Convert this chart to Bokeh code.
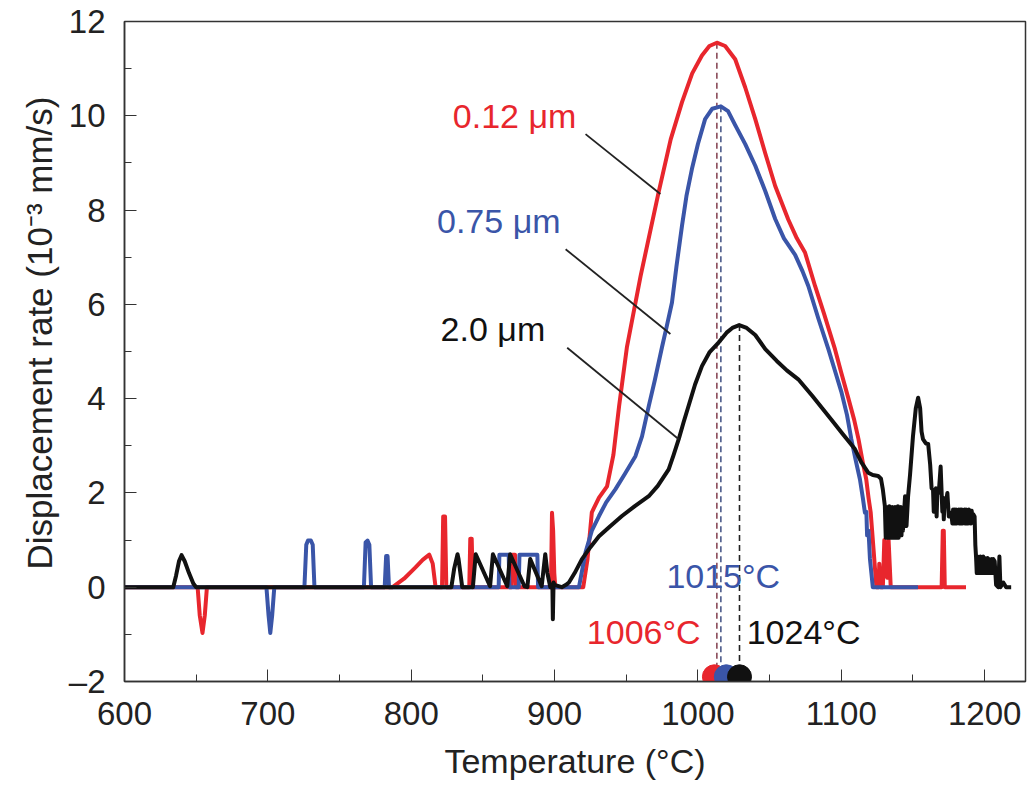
from bokeh.plotting import figure
from bokeh.models import SingleIntervalTicker, ColumnDataSource, Title
from bokeh.core.properties import value
from bokeh.embed import file_html
from bokeh.resources import INLINE

FONT = "Liberation Sans"
RED = "#e8262d"
BLUE = "#3a55a8"
BLACK = "#111111"

# ---- data ----
red_T = [600, 651, 652.5, 654.4, 656, 657.5, 787, 795, 803, 808, 812.6, 815, 817,
         821.5, 822.3, 823.6, 824.5, 840.5, 841.2, 842.2, 843, 870, 870.6, 872.4, 873,
         897.5, 898.2, 899, 899.8, 900.5,
         920, 923, 926, 931, 936.6, 941, 945, 950.5, 960, 972.6, 981, 988.9, 996, 1002.8,
         1008, 1013.2, 1019, 1026, 1033, 1040, 1047, 1053.9, 1063, 1069, 1074.7, 1081.7,
         1088, 1095.6, 1100, 1105, 1109, 1112, 1115, 1117.4, 1119, 1120.5, 1121.5, 1122.5,
         1123.5, 1124.5, 1126, 1126.5, 1127.5, 1129, 1130, 1131, 1132, 1133, 1134.5,
         1170, 1170.8, 1171.5, 1172.2, 1187]
red_V = [0, 0, -0.6, -0.97, -0.6, 0, 0, 0.18, 0.42, 0.58, 0.69, 0.5, 0,
         0, 1.5, 1.5, 0, 0, 1.03, 1.03, 0, 0, 0.69, 0.69, 0,
         0, 1.58, 1.2, 0.3, 0,
         0, 0.6, 1.59, 1.9, 2.14, 2.8, 3.84, 5.1, 6.6, 8.38, 9.5, 10.29, 10.9, 11.28,
         11.48, 11.55, 11.48, 11.2, 10.6, 9.93, 9.2, 8.51, 7.8, 7.4, 7.1, 6.39,
         5.8, 5.05, 4.55, 4.0, 3.55, 3.14, 2.65, 2.29, 1.9, 1.59, 1.2, 0.8,
         0.4, 0, 0, 0.5, 0, 0, 1.0, 0.9, 0.2, 1.0, 0,
         0, 1.2, 1.2, 0, 0]

blue_T = [600, 699, 700.5, 701.7, 703, 704.5, 725.5, 726.8, 728, 730, 731.3, 732.5,
          767, 768.2, 769.5, 770.8, 772, 781.5, 782.5, 783.5, 784.5,
          861, 861.5, 868, 868.5, 875, 875.5, 888, 888.5,
          917, 921.6, 926, 931, 936, 942.5, 949, 956.4, 961, 965.7, 970, 975, 978, 981.9,
          985, 988.9, 992, 995.8, 1000, 1005, 1010, 1016, 1021, 1026, 1033, 1040, 1047,
          1053.9, 1060, 1067.8, 1073, 1077, 1084, 1091, 1095, 1100, 1104, 1107, 1110,
          1113, 1115, 1116.5, 1117.5, 1118, 1119, 1120, 1121, 1122, 1153.5]
blue_V = [0, 0, -0.6, -0.97, -0.6, 0, 0, 0.9, 0.99, 0.99, 0.9, 0,
          0, 0.95, 0.99, 0.9, 0, 0, 0.66, 0.66, 0,
          0, 0.69, 0.69, 0, 0, 0.69, 0.69, 0,
          0, 0.74, 1.2, 1.51, 1.8, 2.08, 2.4, 2.78, 3.2, 3.84, 4.4, 5.1, 5.5, 6.04,
          6.8, 7.67, 8.3, 8.87, 9.4, 9.93, 10.15, 10.2, 10.1, 9.8, 9.4, 8.94, 8.4,
          7.81, 7.4, 7.05, 6.7, 6.39, 5.7, 5.05, 4.65, 4.15, 3.65, 3.14, 2.7,
          2.29, 1.9, 1.58, 1.6, 1.1, 1.2, 0.6, 0.3, 0, 0]

black_T = [600, 634, 636, 638, 639.8, 642, 645, 648, 650,
           828, 830, 832.3, 833, 835.6,
           843, 845, 855, 857, 867, 869, 879, 881, 883, 891, 893.5, 895, 897,
           898.5, 898.8, 899.3, 900, 905, 908, 910, 914, 919, 925, 931, 939, 947, 956,
           965.7, 972, 979.6, 983, 986.6, 990, 993.5, 998, 1002.8, 1008, 1014.4, 1020,
           1024, 1028.8, 1034, 1040, 1047, 1055, 1062, 1070, 1080, 1093, 1101, 1109.5,
           1114, 1118.8, 1122, 1125.7, 1127.7, 1129, 1130.4,
           1131, 1131.5, 1132, 1132.5, 1133, 1133.5, 1134, 1134.5, 1135, 1135.5, 1136,
           1136.5, 1137, 1137.5, 1138, 1138.5, 1139, 1139.5, 1140, 1140.5, 1141, 1141.5,
           1142, 1142.5, 1143,
           1144.5, 1145.5, 1146.6, 1148, 1150, 1152, 1153.6, 1155, 1156, 1157, 1159,
           1160.6, 1162, 1163, 1164, 1164.5, 1165, 1165.5, 1166, 1166.5, 1167, 1168,
           1169.3, 1170.5, 1171, 1171.5, 1172, 1173, 1174, 1175, 1176.7,
           1177.5, 1178, 1178.5, 1179, 1179.5, 1180, 1180.5, 1181, 1181.5, 1182, 1182.5,
           1183, 1183.5, 1184, 1184.5, 1185, 1185.5, 1186, 1186.5, 1187, 1187.5, 1188,
           1188.5, 1189, 1189.5, 1190, 1190.5, 1191, 1191.5, 1192, 1193,
           1193.5, 1194, 1194.5, 1195, 1195.5, 1196, 1196.5, 1197, 1197.5, 1198, 1198.5,
           1199, 1199.5, 1200, 1200.5, 1201, 1201.5, 1202, 1202.5, 1203, 1203.5, 1204,
           1204.5, 1205, 1205.5, 1206, 1207, 1208, 1209.5,
           1210.3, 1211, 1213, 1215, 1218.5]
black_V = [0, 0, 0.25, 0.55, 0.68, 0.55, 0.3, 0.08, 0,
           0, 0.4, 0.7, 0.6, 0,
           0, 0.7, 0.02, 0.7, 0.02, 0.7, 0.02, 0, 0.6, 0.02, 0.7, 0.3, 0,
           0, -0.68, 0.1, 0.05, 0, 0.05, 0.1, 0.3, 0.59, 0.85, 1.08, 1.3, 1.51, 1.72,
           1.93, 2.15, 2.5, 2.8, 3.14, 3.5, 3.85, 4.3, 4.69, 4.98, 5.19, 5.4,
           5.5, 5.56, 5.5, 5.35, 5.05, 4.8, 4.6, 4.41, 4.05, 3.56, 3.25, 2.93,
           2.65, 2.43, 2.38, 2.36, 2.3, 2.07, 1.72,
           1.05, 1.7, 1.05, 1.68, 1.08, 1.72, 1.05, 1.65, 1.1, 1.7, 1.05,
           1.68, 1.08, 1.7, 1.05, 1.65, 1.1, 1.72, 1.05, 1.68, 1.1, 1.7,
           1.1, 1.65, 1.2,
           1.93, 1.3, 1.93, 2.4, 3.2, 3.8, 4.02, 3.8, 3.3, 3.14, 3.05,
           3.04, 2.6, 2.1, 2.07, 1.6, 2.05, 1.6, 2.1, 1.5, 2.0, 2.0,
           2.56, 1.6, 1.9, 1.44, 1.8, 1.8, 2.0, 1.5, 1.58,
           1.35, 1.65, 1.35, 1.65, 1.38, 1.65, 1.35, 1.62, 1.38, 1.65, 1.35,
           1.65, 1.38, 1.65, 1.35, 1.62, 1.38, 1.65, 1.35, 1.65, 1.38, 1.62,
           1.35, 1.65, 1.38, 1.6, 1.35, 1.62, 1.4, 1.55, 1.5,
           0.9, 0.65, 0.3, 0.65, 0.32, 0.62, 0.3, 0.65, 0.32, 0.6, 0.3,
           0.65, 0.32, 0.62, 0.3, 0.6, 0.32, 0.62, 0.3, 0.6, 0.3, 0.58,
           0.3, 0.6, 0.3, 0.6, 0.55, 0.05, 0.0,
           0.65, 0.0, 0.1, 0, 0]

# peak markers (dashed drops and dots on the axis)
peak_T = [1013.2, 1016.0, 1029.0]
peak_V = [11.55, 10.2, 5.56]
dot_T = [1011.5, 1019.8, 1029]
dot_V = [-1.9, -1.9, -1.9]
peak_labels = ["1006°C", "1015°C", "1024°C"]
peak_label_T = [922.5, 978, 1034]
peak_label_V = [-0.94, 0.23, -0.94]

series_labels = ["0.12 μm", "0.75 μm", "2.0 μm"]
series_label_T = [829, 818, 820.5]
series_label_V = [10.0, 7.77, 5.47]
leader_T0 = [921.6, 907.7, 908.8]
leader_V0 = [9.61, 7.17, 5.08]
leader_T1 = [973.8, 980.8, 986.6]
leader_V1 = [8.34, 5.37, 3.14]

x_title = "Temperature (°C)"
y_title = "Displacement rate (10⁻³ mm/s)"

colors = [RED, BLUE, BLACK]
dash_colors = ["#8a4a58", "#4a5a8a", "#222222"]

p = figure(width=1029, height=787, x_range=(600, 1228.5), y_range=(-2, 12),
           output_backend="svg", toolbar_location=None,
           min_border_left=124, min_border_right=4, min_border_top=21,
           min_border_bottom=106)
p.grid.visible = False
p.outline_line_color = "#333333"
p.outline_line_width = 1.5
p.background_fill_color = "white"
p.border_fill_color = "white"

p.xaxis.ticker = SingleIntervalTicker(interval=100, num_minor_ticks=2)
p.yaxis.ticker = SingleIntervalTicker(interval=2, num_minor_ticks=2)
p.yaxis.major_label_overrides = {-2: "–2"}
for ax in (p.xaxis[0], p.yaxis[0]):
    ax.axis_line_color = "#333333"
    ax.axis_line_width = 1.5
    ax.major_tick_in = 12
    ax.major_tick_out = 0
    ax.minor_tick_in = 7
    ax.minor_tick_out = 0
    ax.major_tick_line_color = "#333333"
    ax.minor_tick_line_color = "#333333"
    ax.major_label_text_font = FONT
    ax.major_label_text_font_size = "33px"
    ax.major_label_text_color = "#222222"
    ax.axis_label_text_font = FONT
    ax.axis_label_text_font_size = "34px"
    ax.axis_label_text_font_style = "normal"
    ax.axis_label_text_color = "#222222"
p.xaxis.axis_label = x_title
p.xaxis.major_label_standoff = 20
p.yaxis.major_label_standoff = 19
p.xaxis.axis_label_standoff = 14

# y-axis title as a left-side title, anchored so it sits a little above centre
yt = Title(text=y_title, align="left", offset=112, standoff=14,
           text_font=FONT, text_font_size="35px", text_font_style="normal",
           text_color="#222222")
p.add_layout(yt, "left")

# dashed drops from each peak
p.segment(x0=peak_T, y0=peak_V, x1=peak_T, y1=[-2, -2, -2],
          line_color=dash_colors, line_width=1.6, line_dash="6 4")

p.line(red_T, red_V, line_color=RED, line_width=4, line_join="round")
p.line(blue_T, blue_V, line_color=BLUE, line_width=4, line_join="round")
p.line(black_T, black_V, line_color=BLACK, line_width=4, line_join="round")

# leader lines
p.segment(x0=leader_T0, y0=leader_V0, x1=leader_T1, y1=leader_V1,
          line_color="#222222", line_width=1.8)

# series labels
src = ColumnDataSource(dict(x=series_label_T, y=series_label_V, t=series_labels, c=colors))
p.text(x="x", y="y", text="t", text_color="c", source=src,
       text_font=value(FONT), text_font_size="34px",
       text_align="left", text_baseline="middle")

src2 = ColumnDataSource(dict(x=peak_label_T, y=peak_label_V, t=peak_labels, c=colors))
p.text(x="x", y="y", text="t", text_color="c", source=src2,
       text_font=value(FONT), text_font_size="34px",
       text_align="left", text_baseline="middle")

# dots on the axis
p.scatter(dot_T, dot_V, size=24, fill_color=colors, line_color=colors, marker="circle")

open("out.html", "w").write(file_html(p, INLINE))
